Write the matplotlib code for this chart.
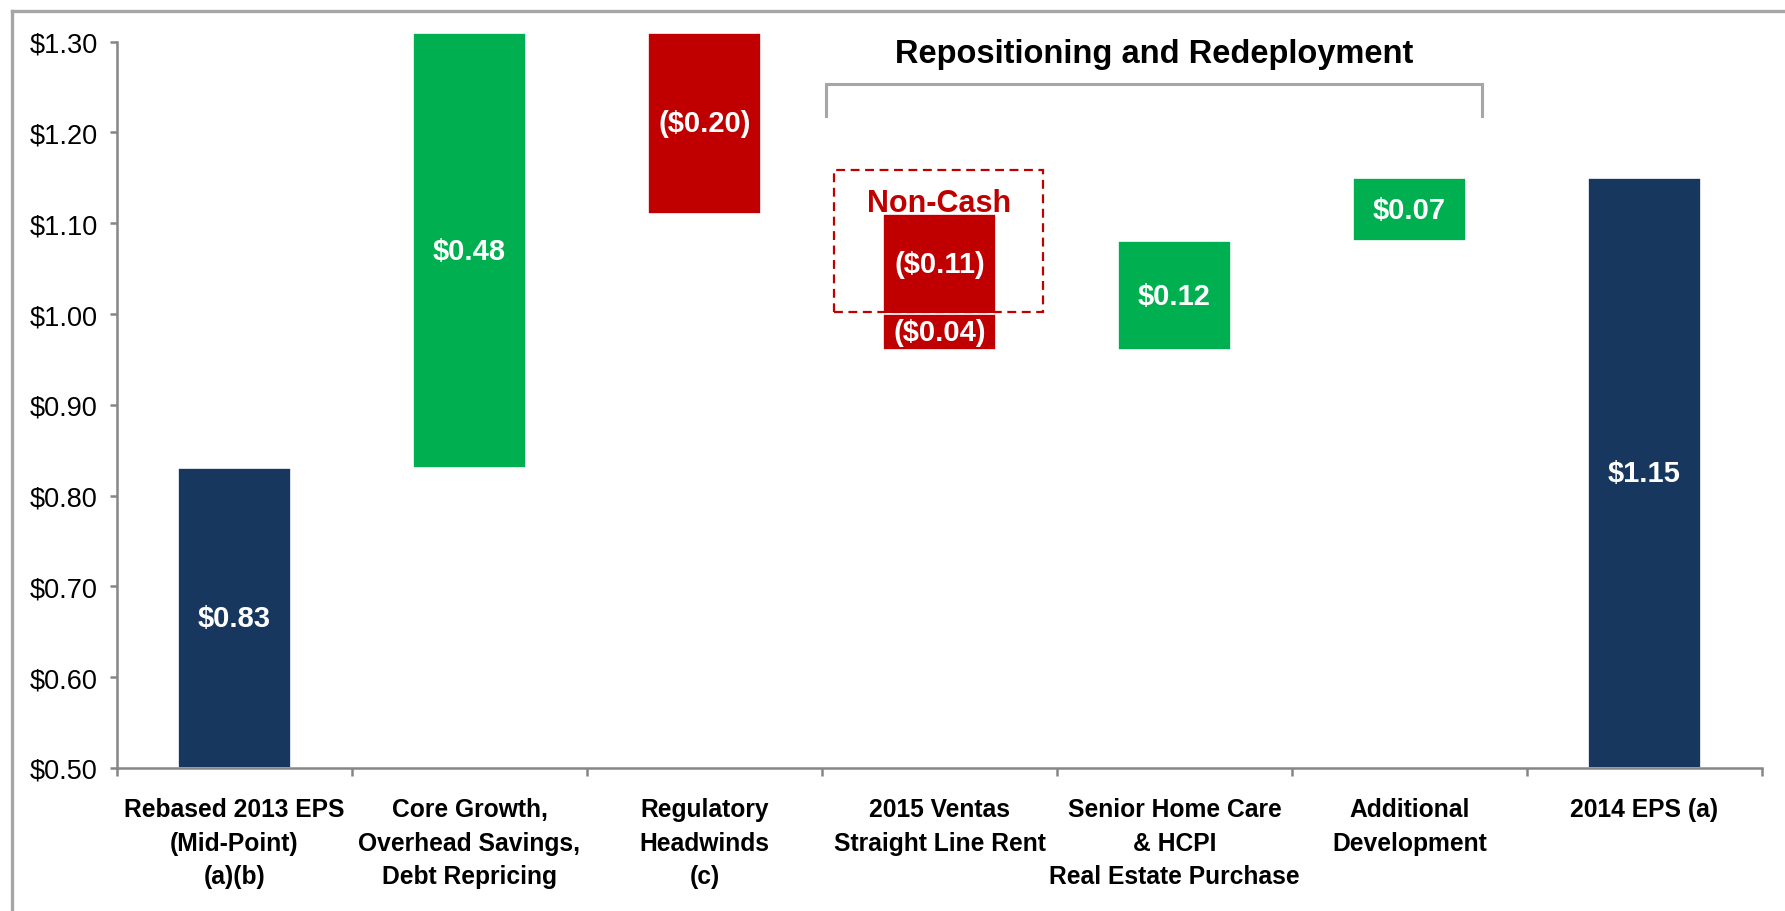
import matplotlib
matplotlib.use("Agg")
import matplotlib.pyplot as plt
from matplotlib.lines import Line2D
from matplotlib.patches import Rectangle

plt.rcParams["font.family"] = ["Liberation Sans", "DejaVu Sans"]

NAVY = "#17375E"
GREEN = "#00B050"
RED = "#C00000"
AXIS_GRAY = "#868686"
FRAME_GRAY = "#A6A6A6"

CATEGORIES = [
    "Rebased 2013 EPS\n(Mid-Point)\n(a)(b)",
    "Core Growth,\nOverhead Savings,\nDebt Repricing",
    "Regulatory\nHeadwinds\n(c)",
    "2015 Ventas\nStraight Line Rent",
    "Senior Home Care\n& HCPI\nReal Estate Purchase",
    "Additional\nDevelopment",
    "2014 EPS (a)",
]

START_VALUE = 0.83
END_VALUE = 1.15
CHANGE_VALUES = [0.48, -0.20, -0.11, -0.04, 0.12, 0.07]
CHANGE_SLOTS = [1, 2, 3, 3, 4, 5]

Y_TICKS = [0.50, 0.60, 0.70, 0.80, 0.90, 1.00, 1.10, 1.20, 1.30]


def money(v, bracket=False):
    if bracket:
        return f"(${abs(v):.2f})"
    return f"${v:.2f}"


def build_bars():
    bars = [(0, 0.5, START_VALUE - 0.5, NAVY, money(START_VALUE))]
    running = START_VALUE
    for slot, v in zip(CHANGE_SLOTS, CHANGE_VALUES):
        if v >= 0:
            bars.append((slot, running, v, GREEN, money(v)))
        else:
            bars.append((slot, running + v, -v, RED, money(v, bracket=True)))
        running += v
    bars.append((len(CATEGORIES) - 1, 0.5, END_VALUE - 0.5, NAVY, money(END_VALUE)))
    return bars


def make_chart():
    fig = plt.figure(figsize=(17.85, 9.12), dpi=100)
    ax = fig.add_axes([117 / 1785, 1 - 769 / 912, 7 * 235 / 1785, (769 - 31.8) / 912])

    ymax = 1.312
    for slot, bottom, height, color, label in build_bars():
        ax.bar(slot, height, bottom=bottom, width=0.485, color=color,
               edgecolor="white", linewidth=1.2)
        mid = (bottom + min(bottom + height, ymax)) / 2
        ax.text(slot, mid, label, ha="center", va="center",
                color="white", fontsize=21, fontweight="bold")

    ax.set_xlim(-0.5, len(CATEGORIES) - 0.5)
    ax.set_ylim(0.5, ymax)

    # axes styling
    for side in ["top", "right"]:
        ax.spines[side].set_visible(False)
    ax.spines["left"].set_bounds(0.5, 1.30)
    for side in ["left", "bottom"]:
        ax.spines[side].set_color(AXIS_GRAY)
        ax.spines[side].set_linewidth(1.8)

    ax.set_yticks(Y_TICKS)
    ax.set_yticklabels([money(v) for v in Y_TICKS])
    ax.tick_params(axis="y", direction="out", length=5, width=1.8,
                   color=AXIS_GRAY, pad=9, labelsize=19.5)

    ax.set_xticks(range(len(CATEGORIES)))
    ax.set_xticklabels(CATEGORIES, fontsize=17.7, fontweight="bold",
                       linespacing=1.5)
    ax.set_xticks([i - 0.5 for i in range(len(CATEGORIES) + 1)], minor=True)
    ax.tick_params(axis="x", which="major", length=0, pad=21)
    ax.tick_params(axis="x", which="minor", direction="out", length=6,
                   width=1.8, color=AXIS_GRAY)

    # repositioning bracket
    ax.plot([2.517, 2.517, 5.309, 5.309], [1.2187, 1.2536, 1.2536, 1.2187],
            color=FRAME_GRAY, lw=2.2, solid_joinstyle="miter", clip_on=False)
    ax.text((2.517 + 5.309) / 2, 1.278, "Repositioning and Redeployment",
            ha="center", va="baseline", fontsize=23.5, fontweight="bold",
            color="black")

    # non-cash box
    ax.add_patch(Rectangle((2.551, 1.002), 3.440 - 2.551, 1.159 - 1.002,
                           fill=False, edgecolor=RED, lw=1.6,
                           linestyle=(0, (4, 2.5)), zorder=3))
    ax.text(3.0, 1.113, "Non-Cash", ha="center", va="baseline",
            fontsize=22, fontweight="bold", color=RED)

    # slide frame
    fig.add_artist(Line2D([12 / 1785, 1], [1 - 12 / 912, 1 - 12 / 912],
                          color=FRAME_GRAY, lw=2.4, transform=fig.transFigure))
    fig.add_artist(Line2D([12 / 1785, 12 / 1785], [0, 1 - 12 / 912],
                          color=FRAME_GRAY, lw=2.4, transform=fig.transFigure))

    fig.savefig("out.png", dpi=100)
    plt.close(fig)


if __name__ == "__main__":
    make_chart()
